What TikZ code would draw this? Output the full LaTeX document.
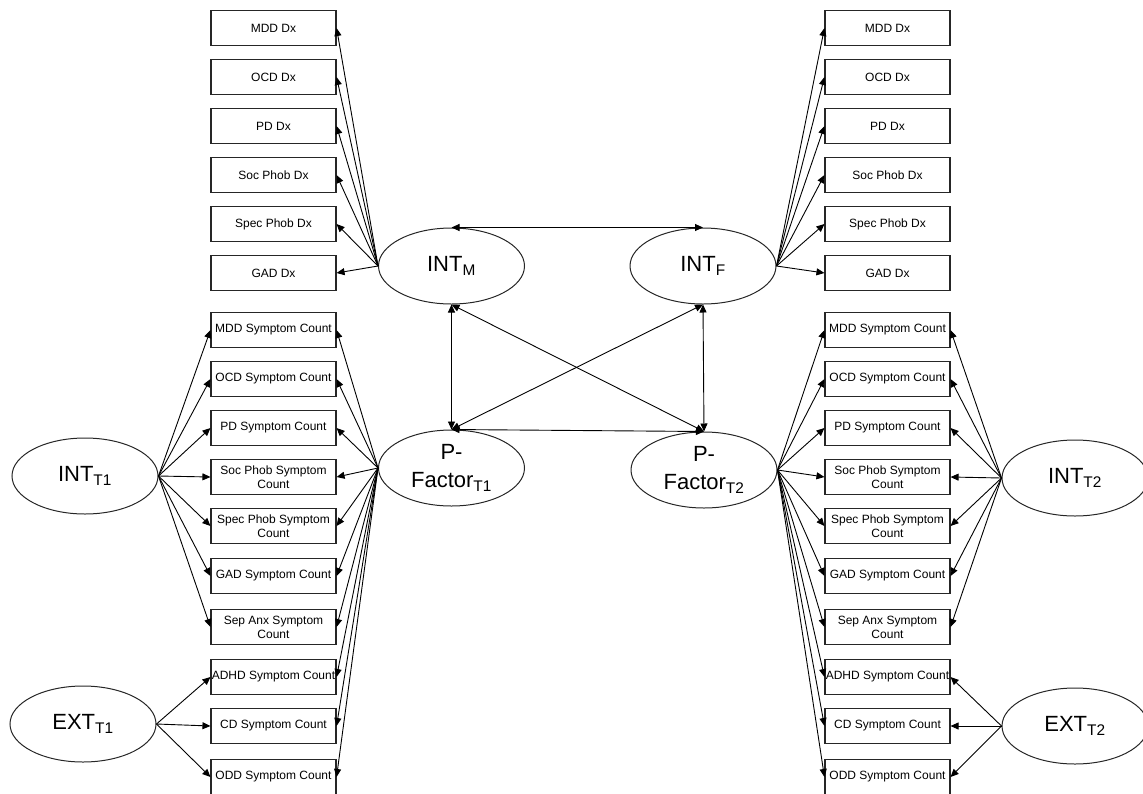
\documentclass[tikz,border=0pt]{standalone}
\usepackage{fontspec}
\setmainfont{Liberation Sans}
\usetikzlibrary{arrows.meta,shapes.geometric}
\tikzset{
	obsbox/.style={draw=black!85, line width=1.1pt, minimum width=125pt, minimum height=35pt, inner sep=0pt, align=center, font=\fontsize{12}{14}\selectfont},
	latent/.style={draw=black!85, line width=1pt, ellipse, minimum width=146pt, minimum height=76pt, inner sep=0pt, align=center, font=\fontsize{22}{28}\selectfont},
	loading/.style={line width=0.9pt, -{Triangle[length=8pt,width=7pt]}},
	corr/.style={line width=0.9pt, {Triangle[length=8pt,width=7pt]}-{Triangle[length=8pt,width=7pt]}}
}

\begin{document}
\begin{tikzpicture}[x=1pt, y=-1pt]
			%%%%% START %%%%%
			\useasboundingbox (0, 0) rectangle (1143, 793);
			
			\node[latent] (intM) at (451.5, 266) {INT\textsubscript{M}};
			\node[latent] (intF) at (703, 266) {INT\textsubscript{F}};
			\node[latent] (pf1) at (451.5, 468) {P-\\Factor\textsubscript{T1}};
			\node[latent] (pf2) at (704, 470) {P-\\Factor\textsubscript{T2}};
			\node[latent] (int1) at (85, 476) {INT\textsubscript{T1}};
			\node[latent] (ext1) at (83, 724) {EXT\textsubscript{T1}};
			\node[latent] (int2) at (1075, 478) {INT\textsubscript{T2}};
			\node[latent] (ext2) at (1075, 726) {EXT\textsubscript{T2}};
			
			\node[obsbox] (mddDxL) at (273.5, 28) {MDD Dx};
			\node[obsbox] (ocdDxL) at (273.5, 77) {OCD Dx};
			\node[obsbox] (pdDxL) at (273.5, 126) {PD Dx};
			\node[obsbox] (socDxL) at (273.5, 175) {Soc Phob Dx};
			\node[obsbox] (specDxL) at (273.5, 224) {Spec Phob Dx};
			\node[obsbox] (gadDxL) at (273.5, 273) {GAD Dx};
			
			\node[obsbox] (mddDxR) at (887.5, 28) {MDD Dx};
			\node[obsbox] (ocdDxR) at (887.5, 77) {OCD Dx};
			\node[obsbox] (pdDxR) at (887.5, 126) {PD Dx};
			\node[obsbox] (socDxR) at (887.5, 175) {Soc Phob Dx};
			\node[obsbox] (specDxR) at (887.5, 224) {Spec Phob Dx};
			\node[obsbox] (gadDxR) at (887.5, 273) {GAD Dx};
			
			\node[obsbox] (mddL) at (273.5, 330) {MDD Symptom Count};
			\node[obsbox] (ocdL) at (273.5, 379) {OCD Symptom Count};
			\node[obsbox] (pdL) at (273.5, 428) {PD Symptom Count};
			\node[obsbox] (socL) at (273.5, 477) {Soc Phob Symptom\\Count};
			\node[obsbox] (specL) at (273.5, 526) {Spec Phob Symptom\\Count};
			\node[obsbox] (gadL) at (273.5, 576) {GAD Symptom Count};
			\node[obsbox] (sepL) at (273.5, 627) {Sep Anx Symptom\\Count};
			\node[obsbox] (adhdL) at (273.5, 677) {ADHD Symptom Count};
			\node[obsbox] (cdL) at (273.5, 726) {CD Symptom Count};
			\node[obsbox] (oddL) at (273.5, 777) {ODD Symptom Count};
			
			\node[obsbox] (mddR) at (887.5, 330) {MDD Symptom Count};
			\node[obsbox] (ocdR) at (887.5, 379) {OCD Symptom Count};
			\node[obsbox] (pdR) at (887.5, 428) {PD Symptom Count};
			\node[obsbox] (socR) at (887.5, 477) {Soc Phob Symptom\\Count};
			\node[obsbox] (specR) at (887.5, 526) {Spec Phob Symptom\\Count};
			\node[obsbox] (gadR) at (887.5, 576) {GAD Symptom Count};
			\node[obsbox] (sepR) at (887.5, 627) {Sep Anx Symptom\\Count};
			\node[obsbox] (adhdR) at (887.5, 677) {ADHD Symptom Count};
			\node[obsbox] (cdR) at (887.5, 726) {CD Symptom Count};
			\node[obsbox] (oddR) at (887.5, 777) {ODD Symptom Count};
			
			\draw[corr] (intM.north) -- (intF.north);
			\draw[corr] (intM.south) -- (pf1.north);
			\draw[corr] (intF.south) -- (pf2.north);
			\draw[corr] (intM.south) -- (pf2.north);
			\draw[corr] (intF.south) -- (pf1.north);
			\draw[corr] (pf1.north) -- (pf2.north);
			
			\draw[loading] (intM.west) -- (mddDxL.east);
			\draw[loading] (intM.west) -- (ocdDxL.east);
			\draw[loading] (intM.west) -- (pdDxL.east);
			\draw[loading] (intM.west) -- (socDxL.east);
			\draw[loading] (intM.west) -- (specDxL.east);
			\draw[loading] (intM.west) -- (gadDxL.east);
			
			\draw[loading] (intF.east) -- (mddDxR.west);
			\draw[loading] (intF.east) -- (ocdDxR.west);
			\draw[loading] (intF.east) -- (pdDxR.west);
			\draw[loading] (intF.east) -- (socDxR.west);
			\draw[loading] (intF.east) -- (specDxR.west);
			\draw[loading] (intF.east) -- (gadDxR.west);
			
			\draw[loading] (pf1.west) -- (mddL.east);
			\draw[loading] (pf1.west) -- (ocdL.east);
			\draw[loading] (pf1.west) -- (pdL.east);
			\draw[loading] (pf1.west) -- (socL.east);
			\draw[loading] (pf1.west) -- (specL.east);
			\draw[loading] (pf1.west) -- (gadL.east);
			\draw[loading] (pf1.west) -- (sepL.east);
			\draw[loading] (pf1.west) -- (adhdL.east);
			\draw[loading] (pf1.west) -- (cdL.east);
			\draw[loading] (pf1.west) -- (oddL.east);
			
			\draw[loading] (int1.east) -- (mddL.west);
			\draw[loading] (int1.east) -- (ocdL.west);
			\draw[loading] (int1.east) -- (pdL.west);
			\draw[loading] (int1.east) -- (socL.west);
			\draw[loading] (int1.east) -- (specL.west);
			\draw[loading] (int1.east) -- (gadL.west);
			\draw[loading] (int1.east) -- (sepL.west);
			
			\draw[loading] (ext1.east) -- (adhdL.west);
			\draw[loading] (ext1.east) -- (cdL.west);
			\draw[loading] (ext1.east) -- (oddL.west);
			
			\draw[loading] (pf2.east) -- (mddR.west);
			\draw[loading] (pf2.east) -- (ocdR.west);
			\draw[loading] (pf2.east) -- (pdR.west);
			\draw[loading] (pf2.east) -- (socR.west);
			\draw[loading] (pf2.east) -- (specR.west);
			\draw[loading] (pf2.east) -- (gadR.west);
			\draw[loading] (pf2.east) -- (sepR.west);
			\draw[loading] (pf2.east) -- (adhdR.west);
			\draw[loading] (pf2.east) -- (cdR.west);
			\draw[loading] (pf2.east) -- (oddR.west);
			
			\draw[loading] (int2.west) -- (mddR.east);
			\draw[loading] (int2.west) -- (ocdR.east);
			\draw[loading] (int2.west) -- (pdR.east);
			\draw[loading] (int2.west) -- (socR.east);
			\draw[loading] (int2.west) -- (specR.east);
			\draw[loading] (int2.west) -- (gadR.east);
			\draw[loading] (int2.west) -- (sepR.east);
			
			\draw[loading] (ext2.west) -- (adhdR.east);
			\draw[loading] (ext2.west) -- (cdR.east);
			\draw[loading] (ext2.west) -- (oddR.east);
			
			%%%%% END %%%%%
\end{tikzpicture}
\end{document}
